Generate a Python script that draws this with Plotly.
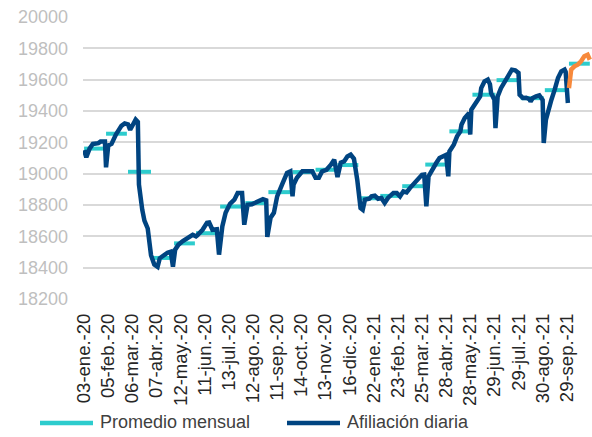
import plotly.graph_objects as go

# ---- tick labels (business-day index of each label) ----
tick_labels = ["03-ene.-20", "05-feb.-20", "06-mar.-20", "07-abr.-20", "12-may.-20",
               "11-jun.-20", "13-jul.-20", "12-ago.-20", "11-sep.-20", "14-oct.-20",
               "13-nov.-20", "16-dic.-20", "22-ene.-21", "23-feb.-21", "25-mar.-21",
               "28-abr.-21", "28-may.-21", "29-jun.-21", "29-jul.-21", "30-ago.-21",
               "29-sep.-21"]
tick_days = [0, 22, 44, 66, 88, 110, 132, 154, 176, 198, 220, 242, 264, 286, 308,
             330, 352, 374, 396, 418, 440]

# ---- daily affiliation (thousands), Jan 2020 - Sep 2021 ----
dias = [0, 2, 5, 8, 13, 15, 19, 20, 22, 25, 29, 34, 37, 40, 42, 45, 47, 49, 50, 53,
        55, 58, 61, 64, 67, 69, 73, 76, 79, 81, 83, 86, 90, 95, 99, 102, 103, 108, 112, 114,
        117, 121, 123, 126, 129, 133, 137, 140, 144, 146, 149, 153, 158, 163, 166, 167, 170, 173, 176, 178,
        181, 185, 188, 190, 191, 194, 199, 203, 208, 211, 214, 217, 221, 225, 228, 231, 234, 237, 240, 243,
        246, 249, 251, 252, 254, 256, 260, 262, 265, 268, 271, 274, 277, 282, 285, 288, 291, 294, 297, 302,
        305, 308, 310, 312, 314, 317, 321, 324, 328, 330, 332, 333, 337, 340, 343, 344, 347, 351, 352, 353,
        356, 361, 362, 365, 368, 370, 371, 374, 375, 377, 380, 384, 387, 390, 393, 396, 397, 400, 403, 406,
        407, 409, 412, 415, 418, 419, 421, 423, 426, 429, 432, 435, 438, 439, 441]
afiliacion = [19150, 19105, 19160, 19190, 19195, 19205, 19205, 19040, 19180, 19190,
              19250, 19305, 19320, 19315, 19280, 19320, 19345, 19330, 18930, 18770,
              18700, 18650, 18480, 18420, 18405, 18460, 18485, 18495, 18502, 18406,
              18515, 18547, 18570, 18592, 18610, 18600, 18605, 18642, 18686, 18688,
              18642, 18645, 18483, 18663, 18750, 18808, 18834, 18877, 18877, 18674,
              18802, 18805, 18821, 18837, 18830, 18596, 18719, 18750, 18855, 18898,
              18940, 19005, 19015, 18855, 18930, 18974, 19015, 19015, 19015, 18974,
              18974, 19015, 19025, 19057, 19089, 18978, 19070, 19078, 19110, 19121,
              19095, 18961, 18834, 18781, 18770, 18834, 18840, 18855, 18859, 18840,
              18845, 18813, 18845, 18877, 18877, 18855, 18887, 18880, 18908, 18945,
              18972, 18993, 18995, 18791, 18983, 19025, 19068, 19100, 19110, 19120,
              18983, 19142, 19185, 19238, 19270, 19312, 19355, 19387, 19249, 19408,
              19440, 19493, 19546, 19589, 19600, 19570, 19515, 19472, 19291, 19493,
              19546, 19589, 19632, 19664, 19660, 19643, 19504, 19483, 19485, 19475,
              19461, 19483, 19493, 19500, 19470, 19196, 19345, 19408, 19472, 19536,
              19611, 19653, 19664, 19650, 19451]

# ---- October 2021 (highlighted) ----
dias_oct = [442, 444, 447, 450, 453, 456, 459, 461]
afiliacion_oct = [19546, 19664, 19685, 19696, 19717, 19749, 19759, 19727]

# ---- monthly average ----
mes_inicio = [0, 20, 40, 62, 82, 102, 124, 147, 168, 190, 211, 231, 251, 270, 290,
              311, 333, 354, 376, 398, 420, 442]
mes_fin = [19, 39, 61, 81, 101, 123, 146, 167, 189, 210, 230, 250, 269, 289, 310,
           332, 353, 375, 397, 419, 441, 461]
promedio = [19160, 19255, 19012, 18462, 18555, 18620, 18790, 18812, 18882, 19010,
            19025, 19055, 18843, 18858, 18920, 19058, 19270, 19504, 19597, 19482,
            19533, 19702]

legend_names = ["Promedio mensual", "Afiliación diaria"]

NAVY = "#004481"
AQUA = "#2DCCCD"
ORANGE = "#F7893B"
FONT = "Liberation Sans, Arial, sans-serif"

W, H = 592, 437
ML, MR, MT, MB = 83, 0, 17, 138
PW, PH = W - ML - MR, H - MT - MB


def paper_x(pxl):
    return (pxl - ML) / PW


def paper_y(pxl):
    return (H - MB - pxl) / PH


px, py = [], []
for s, e, v in zip(mes_inicio, mes_fin, promedio):
    px += [s, e, None]
    py += [v, v, None]

fig = go.Figure()
fig.add_trace(go.Scatter(x=px, y=py, mode="lines", name=legend_names[0], showlegend=False,
                         line=dict(color=AQUA, width=4), connectgaps=False))
fig.add_trace(go.Scatter(x=dias, y=afiliacion, mode="lines", name=legend_names[1], showlegend=False,
                         line=dict(color=NAVY, width=4.5)))
fig.add_trace(go.Scatter(x=dias_oct, y=afiliacion_oct, mode="lines", showlegend=False,
                         line=dict(color=ORANGE, width=4.5)))

# legend drawn below the plot (long line samples as in the original)
legend_items = [(40, 93, 98, AQUA), (287, 340, 345, NAVY)]
shapes, annotations = [], []
for (x0, x1, xt, col), name in zip(legend_items, legend_names):
    shapes.append(dict(type="line", xref="paper", yref="paper",
                       x0=paper_x(x0), x1=paper_x(x1), y0=paper_y(423), y1=paper_y(423),
                       line=dict(color=col, width=4.5)))
    annotations.append(dict(text=name, xref="paper", yref="paper", x=paper_x(xt),
                            y=paper_y(422), xanchor="left", yanchor="middle", showarrow=False,
                            font=dict(size=18, color="#404040", family=FONT)))

fig.update_layout(
    width=W, height=H,
    margin=dict(l=ML, r=MR, t=MT, b=MB),
    paper_bgcolor="white", plot_bgcolor="white",
    font=dict(family=FONT, color="#404040"),
    showlegend=False,
    shapes=shapes, annotations=annotations,
)
fig.update_xaxes(
    range=[-1, 463], tickmode="array", tickvals=tick_days, ticktext=tick_labels,
    tickangle=-90, tickfont=dict(size=18.5, color="#262626", family=FONT),
    showgrid=False, zeroline=False, showline=False, ticks="", automargin=False,
    ticklabelstandoff=10,
)
fig.update_yaxes(
    range=[18200, 20000], dtick=200, tick0=18200, tickformat="d",
    tickfont=dict(size=18, color="#BFBFBF", family=FONT),
    showgrid=True, gridcolor="#D9D9D9", gridwidth=1.5, zeroline=False, showline=False,
    ticks="", automargin=False, ticklabelstandoff=14,
)

fig.write_html("out.html", config={"displayModeBar": False},
               post_script="document.body.style.margin='0px';")
